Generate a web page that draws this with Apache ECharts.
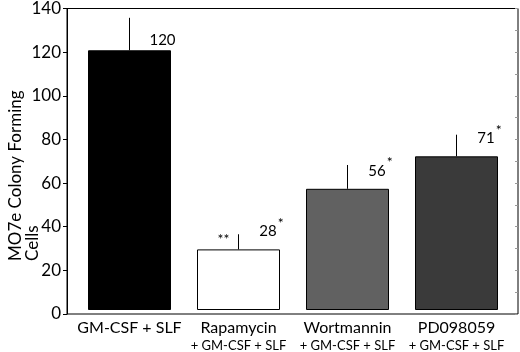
<!doctype html>
<html lang="en">
<head>
    <meta charset="utf-8">
    <title>MO7e colony forming cells</title>
    <style>
        html, body { margin: 0; padding: 0; background: #fff; }
        #chart { width: 520px; height: 352px; }
    </style>
</head>
<body>
    <div id="chart"></div>
    <script src="https://cdn.jsdelivr.net/npm/echarts@6/dist/echarts.min.js"></script>
    <script>
        var treatments = ['GM-CSF + SLF', 'Rapamycin', 'Wortmannin', 'PD098059'];
        var subLabels = ['', '+ GM-CSF + SLF', '+ GM-CSF + SLF', '+ GM-CSF + SLF'];
        var cells = [120, 28, 56, 71];
        var errors = [15, 7, 11, 10];
        var starsRight = ['', '*', '*', '*'];
        var starsLeft = ['', '**', '', ''];
        var yTicks = [0, 20, 40, 60, 80, 100, 120, 140];

        var barColors = ['#000000', '#ffffff', '#616161', '#3a3a3a'];
        var fontName = 'Lato';

        var chart = echarts.init(document.getElementById('chart'));

        var gridTop = 7, gridBottom = 38;

        chart.setOption({
            animation: false,
            textStyle: { fontFamily: fontName, color: '#000' },
            grid: [
                // frame + y axis
                { left: 67, right: 2, top: gridTop, bottom: gridBottom, show: true, borderColor: '#000', borderWidth: 1, backgroundColor: 'transparent' },
                // bars
                { left: 75, right: 9, top: gridTop, bottom: gridBottom }
            ],
            xAxis: [
                { gridIndex: 0, type: 'value', min: 0, max: 1, show: false },
                {
                    gridIndex: 1, type: 'category', data: treatments,
                    axisLine: { show: false }, axisTick: { show: false },
                    axisLabel: {
                        margin: 8,
                        interval: 0,
                        formatter: function (v, i) {
                            return subLabels[i] ? '{a|' + v + '}\n{b|' + subLabels[i] + '}' : '{a|' + v + '}';
                        },
                        rich: {
                            a: { fontSize: 16, lineHeight: 19, fontFamily: fontName, color: '#000' },
                            b: { fontSize: 13, lineHeight: 17, fontFamily: fontName, color: '#000' }
                        }
                    }
                }
            ],
            yAxis: [
                {
                    gridIndex: 0, type: 'value', min: yTicks[0], max: yTicks[yTicks.length - 1], interval: 20,
                    axisLine: { show: true, lineStyle: { color: '#000' } },
                    axisTick: { show: true, length: 4, lineStyle: { color: '#000' } },
                    axisLabel: { fontSize: 17, margin: 6, color: '#000', fontFamily: fontName },
                    splitLine: { show: false }
                },
                {
                    gridIndex: 0, type: 'value', min: 0, max: 140, interval: 10,
                    axisLine: { show: false },
                    axisTick: { show: true, inside: true, length: 3, lineStyle: { color: '#999' } },
                    axisLabel: { show: false },
                    splitLine: { show: false }
                },
                { gridIndex: 1, type: 'value', min: 0, max: 140, show: false }
            ],
            graphic: [{
                type: 'text',
                x: 7,
                y: 261,
                rotation: Math.PI / 2,
                style: {
                    text: 'MO7e Colony Forming\nCells',
                    font: '17px ' + fontName,
                    lineHeight: 17,
                    fill: '#000',
                    align: 'left',
                    verticalAlign: 'top'
                }
            }],
            series: [
                {
                    type: 'bar',
                    xAxisIndex: 1,
                    yAxisIndex: 2,
                    barWidth: 83,
                    data: cells.map(function (v, i) {
                        return {
                            value: v,
                            itemStyle: { color: barColors[i], borderColor: '#000', borderWidth: 1 }
                        };
                    }),
                    label: {
                        show: true,
                        position: 'top',
                        distance: 3,
                        offset: [33, 0],
                        formatter: function (p) {
                            var s = starsRight[p.dataIndex];
                            return '{n|' + p.value + '}' + (s ? '{s|' + s + '}' : '');
                        },
                        rich: {
                            n: { fontSize: 15, fontFamily: fontName, color: '#000' },
                            s: { fontSize: 14, fontFamily: fontName, color: '#000', padding: [0, 0, 16, 1] }
                        }
                    }
                },
                {
                    type: 'custom',
                    xAxisIndex: 1,
                    yAxisIndex: 2,
                    data: cells.map(function (v, i) { return [i, v, v + errors[i]]; }),
                    renderItem: function (params, api) {
                        var i = api.value(0);
                        var p0 = api.coord([i, api.value(1)]);
                        var p1 = api.coord([i, api.value(2)]);
                        var kids = [{
                            type: 'line',
                            shape: { x1: p0[0], y1: p0[1], x2: p1[0], y2: p1[1] },
                            style: { stroke: '#000', lineWidth: 1 }
                        }];
                        if (starsLeft[i]) {
                            kids.push({
                                type: 'text',
                                x: p1[0] - 15,
                                y: p1[1] + 5,
                                style: {
                                    text: starsLeft[i], font: '14px ' + fontName, fill: '#000',
                                    align: 'center', verticalAlign: 'middle'
                                }
                            });
                        }
                        return { type: 'group', children: kids };
                    },
                    z: 3
                }
            ]
        });
    </script>
</body>
</html>
